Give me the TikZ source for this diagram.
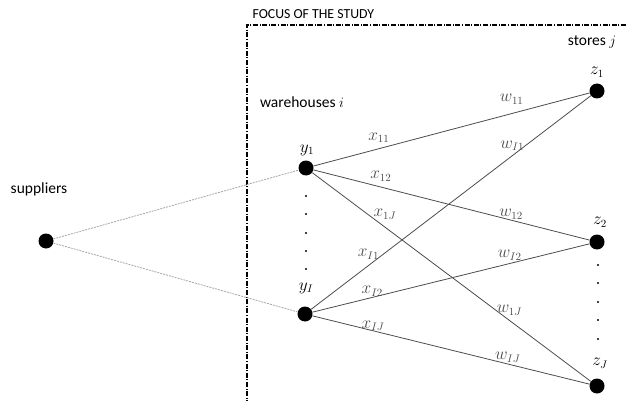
\documentclass[tikz,border=0pt]{standalone}
\usepackage{amsmath,amssymb}
\usepackage{fontspec}
\setmainfont{Carlito}
\usepackage{tikz}
\usetikzlibrary{positioning}

\begin{document}
\begin{tikzpicture}[x=1pt,y=-1pt,font=\fontsize{15.5}{18}\selectfont,
    dot/.style={circle,fill=black,inner sep=0pt,minimum size=15pt},
    link/.style={color=black!70,line width=0.8pt},
    supply/.style={color=black!35,dash pattern=on 2pt off 1pt,line width=0.8pt},
    lab/.style={inner sep=0pt,font=\fontsize{16}{18}\selectfont}]
        \useasboundingbox (0,0) rectangle (626,401);
        % focus frame
        \draw[line width=1.2pt,dash pattern=on 5pt off 1.6pt on 1pt off 1.6pt] (626,25) -- (247,25) -- (247,401);
        \node[anchor=west,font=\fontsize{13.8}{16}\selectfont] (focus) at (249,14) {FOCUS OF THE STUDY};
        % nodes
        \node[dot] (s) at (46,241) {}; \node[dot] (y1) at (306,168) {}; \node[dot] (yI) at (305,314) {};
        \node[dot] (z1) at (597,91) {}; \node[dot] (z2) at (597,242) {}; \node[dot] (zJ) at (597,386) {};
        \node (suppliers) at (39,189) {suppliers}; \node (warehouses) at (302,102) {warehouses $i$}; \node (stores) at (592,42) {stores $j$};
        \node[lab] (y1lab) at (307,150) {$y_1$}; \node[lab] (yIlab) at (306,288) {$y_I$};
        \node[lab] (z1lab) at (597,72) {$z_1$}; \node[lab] (z2lab) at (600,222) {$z_2$}; \node[lab] (zJlab) at (600,363) {$z_J$};
        \foreach \y in {196,214,233,251,269} \fill (306,\y) circle (1.1pt);
        \foreach \y in {265,283,302,320,339} \fill (598,\y) circle (1.1pt);
        % supplier links
        \draw[supply] (s) -- (y1); \draw[supply] (s) -- (yI);
        % warehouse to store links
        \draw[link] (y1) -- node[lab,pos=0.237,yshift=11pt] (x11) {$x_{11}$} node[lab,pos=0.718,yshift=14pt] (w11) {$w_{11}$} (z1);
        \draw[link] (y1) -- node[lab,pos=0.244,yshift=11pt] (x12) {$x_{12}$} node[lab,pos=0.716,yshift=6pt] (w12) {$w_{12}$} (z2);
        \draw[link] (y1) -- node[lab,pos=0.261,yshift=13pt] (x1J) {$x_{1J}$} node[lab,pos=0.708,yshift=10pt] (w1J) {$w_{1J}$} (zJ);
        \draw[link] (yI) -- node[lab,pos=0.205,yshift=11pt] (xI1) {$x_{I1}$} node[lab,pos=0.719,yshift=10pt] (wI1) {$w_{I1}$} (z1);
        \draw[link] (yI) -- node[lab,pos=0.216,yshift=6pt] (xI2) {$x_{I2}$} node[lab,pos=0.712,yshift=8pt] (wI2) {$w_{I2}$} (z2);
        \draw[link] (yI) -- node[lab,pos=0.219,yshift=5pt] (xIJ) {$x_{IJ}$} node[lab,pos=0.705,yshift=7pt] (wIJ) {$w_{IJ}$} (zJ);
\end{tikzpicture}
\end{document}
